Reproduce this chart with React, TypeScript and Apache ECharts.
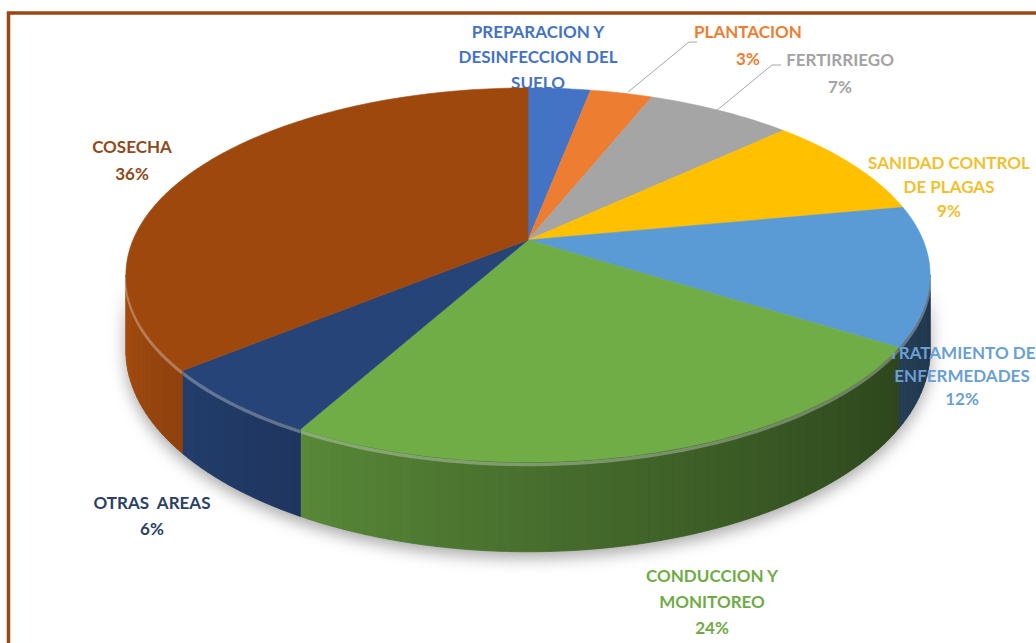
import React, { useEffect, useRef } from 'react';
import * as echarts from 'echarts';

// ---- data ----
const categories = [
  'PREPARACION Y\nDESINFECCION DEL\nSUELO',
  'PLANTACION',
  'FERTIRRIEGO',
  'SANIDAD CONTROL\nDE PLAGAS',
  'TRATAMIENTO DE\nENFERMEDADES',
  'CONDUCCION Y\nMONITOREO',
  'OTRAS  AREAS',
  'COSECHA',
];
const values = [3, 3, 7, 9, 12, 24, 6, 36];

// ---- styles / layout ----
const sliceColors = ['#4472c4', '#ed7d31', '#a5a5a5', '#ffc000', '#5b9bd5', '#70ad47', '#264478', '#9e480e'];
const labelColors = ['#4472c4', '#ed7d31', '#a3a3a3', '#f2bf2e', '#6a9fd4', '#6fab45', '#2b3f66', '#8f4a1c'];
// label anchor: [centerX, first line center Y, line height]
const labelLayout: number[][] = [
  [538, 31, 25.5],
  [748, 31, 27],
  [840, 59, 27],
  [949, 162, 24],
  [962, 352, 23],
  [712, 575, 26],
  [152, 502, 26],
  [132, 146, 27],
];

const CX = 528, CY = 240, RX = 395, RY = 180.5, PK = 0.187, DEPTH = 73;
const DEG = Math.PI / 180;
const PHI_A = Math.acos(-PK);
const PHI_B = 2 * Math.PI - PHI_A;
const total = values.reduce((a, b) => a + b, 0);

function proj(phi: number, h: number): number[] {
  const u = Math.sin(phi);
  const v = -Math.cos(phi);
  const w = 1 / (1 - PK * v);
  return [CX + RX * u * w, CY + RY * v * w + h * w];
}

function shade(hex: string, f: number): string {
  const n = parseInt(hex.slice(1), 16);
  const r = Math.min(255, Math.round(((n >> 16) & 255) * f));
  const g = Math.min(255, Math.round(((n >> 8) & 255) * f));
  const b = Math.min(255, Math.round((n & 255) * f));
  return `rgb(${r},${g},${b})`;
}

function shadeFactor(phi: number): number {
  const t = Math.max(0, Math.min(1, (phi - PHI_A) / (PHI_B - PHI_A)));
  return 0.35 + 0.72 * Math.pow(t, 1.3);
}

function sliceAngles(i: number, v: number): number[] {
  let s = 0;
  for (let j = 0; j < i; j++) s += values[j];
  return [(s / total) * 2 * Math.PI, ((s + v) / total) * 2 * Math.PI];
}

export default function App() {
  const ref = useRef<HTMLDivElement>(null);
  useEffect(() => {
    if (!ref.current) return;
    const chart = echarts.init(ref.current, undefined, { renderer: 'svg' });
    const data = values.map((v, i) => ({ name: categories[i], value: v }));

    const option: any = {
      animation: false,
      backgroundColor: '#ffffff',
      series: [
        {
          type: 'custom',
          name: 'shadow',
          coordinateSystem: 'none',
          silent: true,
          z: 1,
          data: [0],
          renderItem: () => {
            const pts: number[][] = [];
            const n = 120;
            for (let k = 0; k <= n; k++) pts.push(proj(PHI_A + ((PHI_B - PHI_A) * k) / n, DEPTH));
            for (let k = n; k >= 0; k--) pts.push(proj(PHI_A + ((PHI_B - PHI_A) * k) / n, 0));
            return {
              type: 'polygon',
              shape: { points: pts },
              style: {
                fill: '#777',
                shadowBlur: 16,
                shadowColor: 'rgba(0,0,0,0.35)',
                shadowOffsetY: 6,
              },
            };
          },
        },
        {
          type: 'custom',
          name: 'walls',
          coordinateSystem: 'none',
          silent: true,
          z: 2,
          data,
          renderItem: (params: any, api: any) => {
            const i = params.dataIndex;
            const [a0, a1] = sliceAngles(i, api.value(0));
            const s = Math.max(a0, PHI_A);
            const e = Math.min(a1, PHI_B);
            const children: any[] = [];
            if (e > s) {
              const n = Math.max(2, Math.ceil((e - s) / (1.5 * DEG)));
              for (let k = 0; k < n; k++) {
                const p0 = s + ((e - s) * k) / n;
                const p1 = s + ((e - s) * (k + 1)) / n;
                const c = shade(sliceColors[i], shadeFactor((p0 + p1) / 2));
                children.push({
                  type: 'polygon',
                  shape: { points: [proj(p0, 0), proj(p1, 0), proj(p1, DEPTH), proj(p0, DEPTH)] },
                  style: { fill: c, stroke: c, lineWidth: 0.7 },
                });
              }
              const arc: number[][] = [];
              for (let k = 0; k <= n; k++) arc.push(proj(s + ((e - s) * k) / n, 2));
              children.push({
                type: 'polyline',
                shape: { points: arc },
                style: { stroke: 'rgba(255,255,255,0.3)', lineWidth: 3.5, fill: null },
              });
            }
            return { type: 'group', children };
          },
        },
        {
          type: 'custom',
          name: 'labels',
          coordinateSystem: 'none',
          silent: true,
          z: 3,
          data,
          renderItem: (params: any, api: any) => {
            const i = params.dataIndex;
            const v = api.value(0);
            const [x, y0, lh] = labelLayout[i];
            const pct = Math.round((v / total) * 100);
            return {
              type: 'text',
              x,
              y: y0 - lh / 2,
              style: {
                text: `${categories[i]}\n${pct}%`,
                fill: labelColors[i],
                fontFamily: 'Lato',
                fontWeight: 'bold',
                fontSize: 17,
                lineHeight: lh,
                align: 'center',
                verticalAlign: 'top',
              },
            };
          },
        },
        {
          type: 'custom',
          name: 'tops',
          coordinateSystem: 'none',
          silent: true,
          z: 4,
          data,
          renderItem: (params: any, api: any) => {
            const i = params.dataIndex;
            const [a0, a1] = sliceAngles(i, api.value(0));
            const n = Math.max(2, Math.ceil((a1 - a0) / (1 * DEG)));
            const pts: number[][] = [[CX, CY]];
            for (let k = 0; k <= n; k++) pts.push(proj(a0 + ((a1 - a0) * k) / n, 0));
            return {
              type: 'polygon',
              shape: { points: pts },
              style: { fill: sliceColors[i], stroke: sliceColors[i], lineWidth: 0.6 },
            };
          },
        },
      ],
      graphic: [
        {
          type: 'rect',
          z: 20,
          silent: true,
          shape: { x: 8.5, y: 13, width: 1100, height: 700 },
          style: { fill: 'none', stroke: '#9a4710', lineWidth: 3.5 },
        },
        {
          type: 'polyline',
          z: 20,
          silent: true,
          shape: { points: [[697, 42], [689, 42], [628, 92]] },
          style: { stroke: '#a6a6a6', lineWidth: 1, fill: null },
        },
        {
          type: 'polyline',
          z: 20,
          silent: true,
          shape: { points: [[781, 65], [772, 65], [716, 111]] },
          style: { stroke: '#a6a6a6', lineWidth: 1, fill: null },
        },
      ],
    };
    chart.setOption(option);
    return () => chart.dispose();
  }, []);

  return (
    <div
      ref={ref}
      style={{ position: 'fixed', left: 0, top: 0, width: 1036, height: 643, background: '#fff' }}
    />
  );
}
